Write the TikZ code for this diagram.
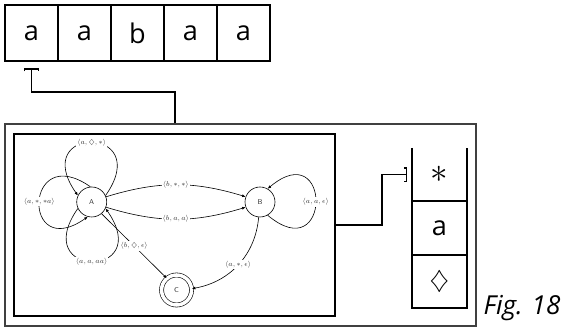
\documentclass[tikz,border=0pt]{standalone}
\usepackage{amsmath,amssymb}
\usepackage[no-math]{fontspec}
\setmainfont{Open Sans}
\usetikzlibrary{arrows.meta,positioning,calc}

\begin{document}
\begin{tikzpicture}[
    cell/.style={draw,line width=2.2pt,minimum width=1.855cm,minimum height=1.96cm,outer sep=0pt,inner sep=0pt,font=\fontsize{27}{30}\selectfont},
    slot/.style={minimum width=1.925cm,minimum height=1.87cm,outer sep=0pt,inner sep=0pt,font=\fontsize{27}{30}\selectfont},
    state/.style={circle,draw,line width=0.6pt,minimum size=1.05cm,inner sep=0pt,font=\scriptsize\sffamily,text=black!80},
    lbl/.style={fill=white,inner sep=1pt,font=\scriptsize,text=black!80},
    ptr/.style={line width=1.5pt,-{Bracket[width=15pt,length=2.5pt]}},
    >={Latex[length=3.5pt,width=3pt]}
]
\useasboundingbox (0,0) rectangle (19.88,11.76);

% input tape
\node[cell] (t1) at (1.1025,10.605) {a};
\node[cell,right=0pt of t1] (t2) {a};
\node[cell,right=0pt of t2] (t3) {b};
\node[cell,right=0pt of t3] (t4) {a};
\node[cell,right=0pt of t4] (t5) {a};

% machine frame and the automaton inside it
\node[draw=black!75,line width=1.2pt,minimum width=16.485cm,minimum height=7.07cm] (pda) at (8.4175,3.885) {};
\node[draw,line width=2pt,minimum width=11.235cm,minimum height=6.37cm] (auto) at (6.1075,3.885) {};

\node[state] (A) at (3.21,4.69) {A};
\node[state] (B) at (9.10,4.69) {B};
\node[state,double,double distance=3.5pt] (C) at (6.18,1.61) {C};

\begin{scope}[line width=0.6pt]
\draw[->] (A.25) to[out=55,in=125,looseness=8] node[lbl] {$\langle a,\diamondsuit,\ast\rangle$} (A.155);
\draw[->] (A.95) to[out=145,in=215,looseness=6.9] node[lbl] {$\langle a,\ast,\ast a\rangle$} (A.255);
\draw[->] (A.205) to[out=-125,in=-55,looseness=8] node[lbl] {$\langle a,a,aa\rangle$} (A.335);
\draw[->] (A.20) to[bend left=17] node[lbl] {$\langle b,\ast,\ast\rangle$} (B.160);
\draw[->] (A.-20) to[bend right=17] node[lbl] {$\langle b,a,a\rangle$} (B.200);
\draw[->] (A.-50) -- node[lbl] {$\langle b,\diamondsuit,\epsilon\rangle$} (C.130);
\draw[->] (B.-60) to[out=-40,in=40,looseness=8.1] node[lbl] {$\langle a,a,\epsilon\rangle$} (B.60);
\draw[->] (B.265) to[out=-95,in=10] node[lbl] {$\langle a,\ast,\epsilon\rangle$} (C.5);
\end{scope}

% stack
\node[slot] (s1) at (15.38,5.65) {\scalebox{1.4}{$\ast$}};
\node[slot,below=0pt of s1] (s2) {a};
\node[slot,below=0pt of s2] (s3) {$\diamondsuit$};
\draw[line width=2.2pt] (s1.north west) -- (s3.south west) -- (s3.south east) -- (s1.north east);
\draw[line width=2.2pt] (s1.south west) -- (s1.south east) (s2.south west) -- (s2.south east);

% read head and stack pointer
\coordinate (bend) at (6.13,8.54);
\draw[ptr] (bend |- pda.north) -- (bend) -| ($(t1.south)+(0,-0.25)$);
\draw[ptr] (auto.east) -- ++(1.61,0) |- ($(s1.west)+(-0.17,0)$);

\node[anchor=base west,font=\itshape\fontsize{26}{30}\selectfont] (fig) at (16.8,0.735) {Fig. 18};
\end{tikzpicture}
\end{document}
